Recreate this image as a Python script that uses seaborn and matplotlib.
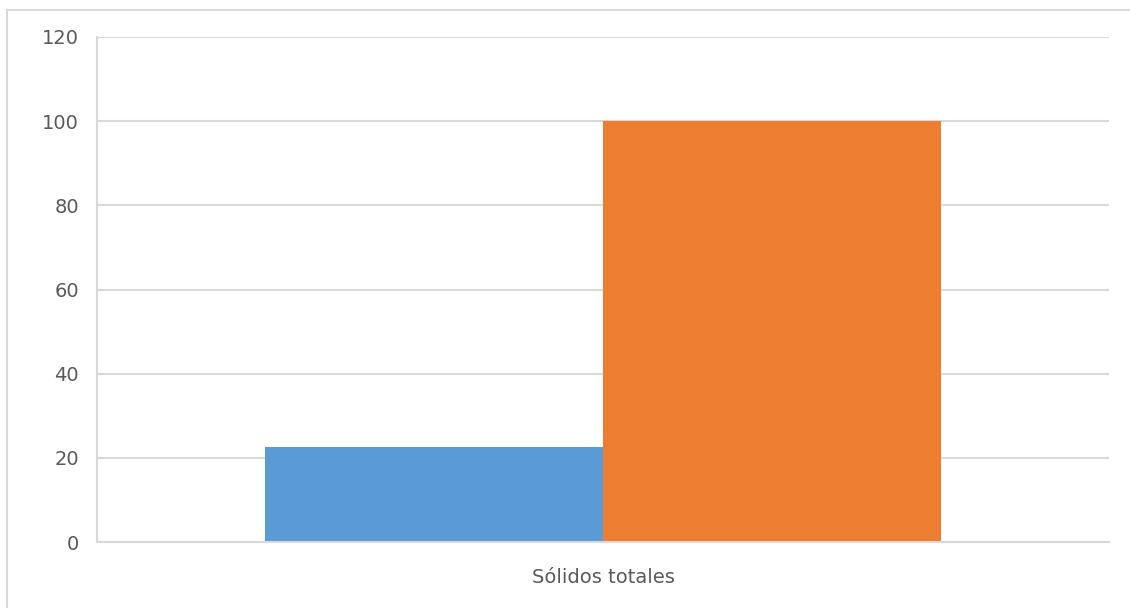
import pandas as pd
import seaborn as sns
import matplotlib.pyplot as plt
from matplotlib.lines import Line2D

# datos
categorias = ['Sólidos totales', 'Sólidos totales']
series = ['Serie 1', 'Serie 2']
valores = [22.6, 100]
colores = ['#5B9BD5', '#ED7D31']

df = pd.DataFrame({'categoria': categorias, 'serie': series, 'valor': valores})

sns.set_style('white')
plt.rcParams['font.family'] = ['DejaVu Sans']

fig = plt.figure(figsize=(11.3, 6.08), dpi=100)
ax = fig.add_axes([97 / 1130, 66 / 608, 1012 / 1130, 505 / 608])

sns.barplot(data=df, x='categoria', y='valor', hue='serie', palette=colores,
            width=0.667, dodge=True, legend=False, ax=ax, saturation=1,
            edgecolor='none')

ax.set_ylim(0, 120)
ax.set_xlim(-0.5, 0.5)
ax.set_yticks(range(0, 121, 20))
ax.yaxis.grid(True, color='#d9d9d9', linewidth=1.5)
ax.set_axisbelow(True)
ax.set_xlabel('')
ax.set_ylabel('')
for lado in ['top', 'right']:
    ax.spines[lado].set_visible(False)
for lado in ['left', 'bottom']:
    ax.spines[lado].set_color('#d9d9d9')
    ax.spines[lado].set_linewidth(1.5)
ax.tick_params(axis='both', length=0, labelsize=14, labelcolor='#595959')
ax.tick_params(axis='y', pad=13)
ax.tick_params(axis='x', pad=19)

# marco exterior del grafico
fig.add_artist(Line2D([7 / 1130, 7 / 1130], [0, 1 - 10 / 608], color='#d9d9d9', lw=1.5))
fig.add_artist(Line2D([7 / 1130, 1], [1 - 10 / 608, 1 - 10 / 608], color='#d9d9d9', lw=1.5))

fig.savefig('out.png', dpi=100)
